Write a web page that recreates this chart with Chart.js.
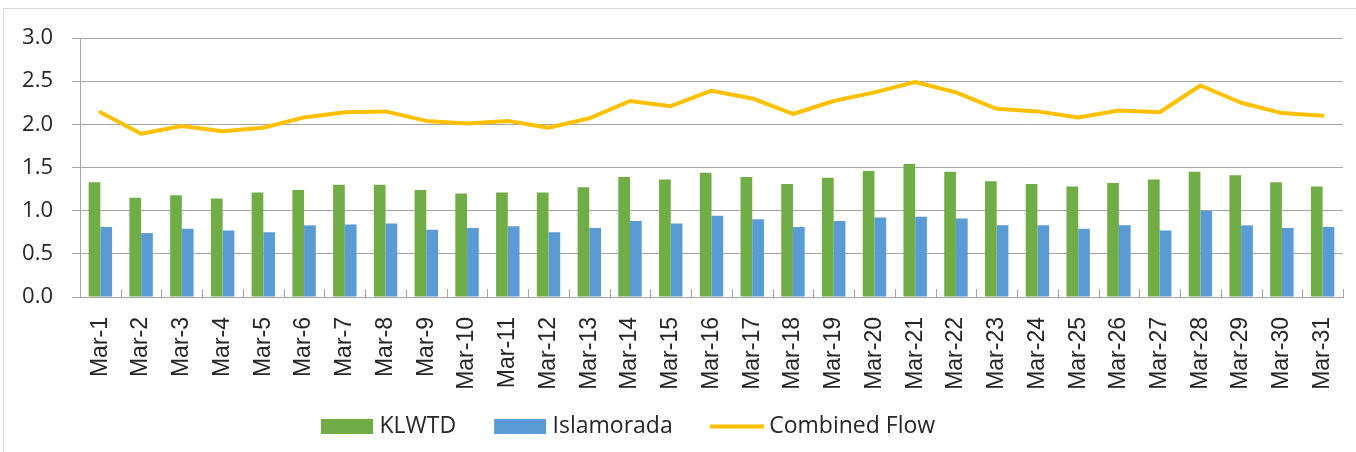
<!DOCTYPE html>
<html>
<head>
<meta charset="utf-8">
<script src="https://cdn.jsdelivr.net/npm/chart.js@4.4.1/dist/chart.umd.min.js"></script>
<style>
  html, body { margin: 0; padding: 0; background: #fff; }
  #wrap { position: relative; width: 1356px; height: 452px; overflow: hidden; }
  #frame { position: absolute; left: 3px; top: 8px; width: 1400px; height: 500px; border: 1px solid #d9d9d9; }
  canvas { position: absolute; left: 0; top: 0; }
</style>
</head>
<body>
<div id="wrap">
  <div id="frame"></div>
  <canvas id="chart" width="1356" height="452"></canvas>
</div>
<script>
const days = ['Mar-1','Mar-2','Mar-3','Mar-4','Mar-5','Mar-6','Mar-7','Mar-8','Mar-9','Mar-10',
  'Mar-11','Mar-12','Mar-13','Mar-14','Mar-15','Mar-16','Mar-17','Mar-18','Mar-19','Mar-20',
  'Mar-21','Mar-22','Mar-23','Mar-24','Mar-25','Mar-26','Mar-27','Mar-28','Mar-29','Mar-30','Mar-31'];
const klwtd = [1.33,1.15,1.18,1.14,1.21,1.24,1.30,1.30,1.24,1.20,1.21,1.21,1.27,1.39,1.36,1.44,
  1.39,1.31,1.38,1.46,1.54,1.45,1.34,1.31,1.28,1.32,1.36,1.45,1.41,1.33,1.28];
const islamorada = [0.81,0.74,0.79,0.77,0.75,0.83,0.84,0.85,0.78,0.80,0.82,0.75,0.80,0.88,0.85,0.94,
  0.90,0.81,0.88,0.92,0.93,0.91,0.83,0.83,0.79,0.83,0.77,1.00,0.83,0.80,0.81];
const combined = [2.14,1.89,1.98,1.92,1.96,2.08,2.14,2.15,2.04,2.01,2.04,1.96,2.07,2.27,2.21,2.39,
  2.30,2.12,2.27,2.37,2.49,2.37,2.18,2.15,2.08,2.16,2.14,2.45,2.25,2.13,2.10];

const GREEN = '#70AD47', BLUE = '#5B9BD5', GOLD = '#FFC000', AXIS = '#a6a6a6', TEXT = '#262626';

// legend swatches, with a clear strip on the left so the items sit further apart
function swatch(color, w, h, lineH){
  const pad = 18;
  const c = document.createElement('canvas'); c.width = w + pad; c.height = h;
  const g = c.getContext('2d');
  g.fillStyle = color;
  if (lineH) { g.fillRect(pad, (h-lineH)/2, w, lineH); } else { g.fillRect(pad, 0, w, h); }
  return c;
}
const icons = [swatch(GREEN, 52, 15), swatch(BLUE, 52, 15), swatch(GOLD, 54, 15, 4)];

const innerTicks = {
  id: 'innerTicks',
  // small tick marks between categories, pointing up into the plot
  beforeDatasetsDraw(chart){
    const x = chart.scales.x, ctx = chart.ctx, n = x.ticks.length;
    ctx.save(); ctx.strokeStyle = AXIS; ctx.lineWidth = 1;
    for (let i = 1; i <= n; i++){
      const px = Math.round(x.left + i*x.width/n) + 0.5;
      ctx.beginPath(); ctx.moveTo(px, x.top); ctx.lineTo(px, x.top - 8); ctx.stroke();
    }
    ctx.restore();
  },
  afterUpdate(chart){
    const lg = chart.legend; if (!lg) return;
    lg.left -= 50; lg.right -= 50; lg.adjustHitBoxes();
  }
};

new Chart(document.getElementById('chart'), {
  type: 'bar',
  data: {
    labels: days,
    datasets: [
      { label:'KLWTD', data:klwtd, backgroundColor:GREEN, categoryPercentage:0.575, barPercentage:1, order:2 },
      { label:'Islamorada', data:islamorada, backgroundColor:BLUE, categoryPercentage:0.575, barPercentage:1, order:2 },
      { type:'line', label:'Combined Flow', data:combined, borderColor:GOLD, backgroundColor:GOLD, borderWidth:4,
        pointRadius:0, tension:0, borderJoinStyle:'round', borderCapStyle:'round', order:1 }
    ]
  },
  options: {
    responsive:false, animation:false,
    layout:{ padding:{ top:38, right:13, bottom:4, left:0 } },
    plugins:{
      tooltip:{ enabled:false },
      legend:{ position:'bottom', labels:{
        usePointStyle:true, pointStyleWidth:60, boxHeight:15, padding:25, color:TEXT,
        font:{ family:'"Open Sans"', size:23 },
        sort:(a, b) => a.datasetIndex - b.datasetIndex,
        generateLabels(chart){
          const items = Chart.defaults.plugins.legend.labels.generateLabels(chart);
          items.forEach(it => { it.pointStyle = icons[it.datasetIndex]; });
          return items;
        }
      }}
    },
    scales:{
      x:{
        grid:{ display:false, drawTicks:false },
        border:{ display:true, color:AXIS, width:1 },
        ticks:{ color:TEXT, font:{ family:'"Liberation Sans"', size:23 }, minRotation:90, maxRotation:90, padding:20, autoSkip:false },
        afterFit(s){ s.height = 93; s.paddingLeft = 0; s.paddingRight = 0; }
      },
      y:{
        min:0, max:3,
        grid:{ color:AXIS, lineWidth:1, tickLength:8 },
        border:{ display:true, color:AXIS, width:1 },
        ticks:{ stepSize:0.5, color:TEXT, padding:19, font:{ family:'"Open Sans"', size:22 }, callback:v => v.toFixed(1) },
        afterFit(s){ s.width = 80; }
      }
    }
  },
  plugins:[innerTicks]
});
</script>
</body>
</html>
